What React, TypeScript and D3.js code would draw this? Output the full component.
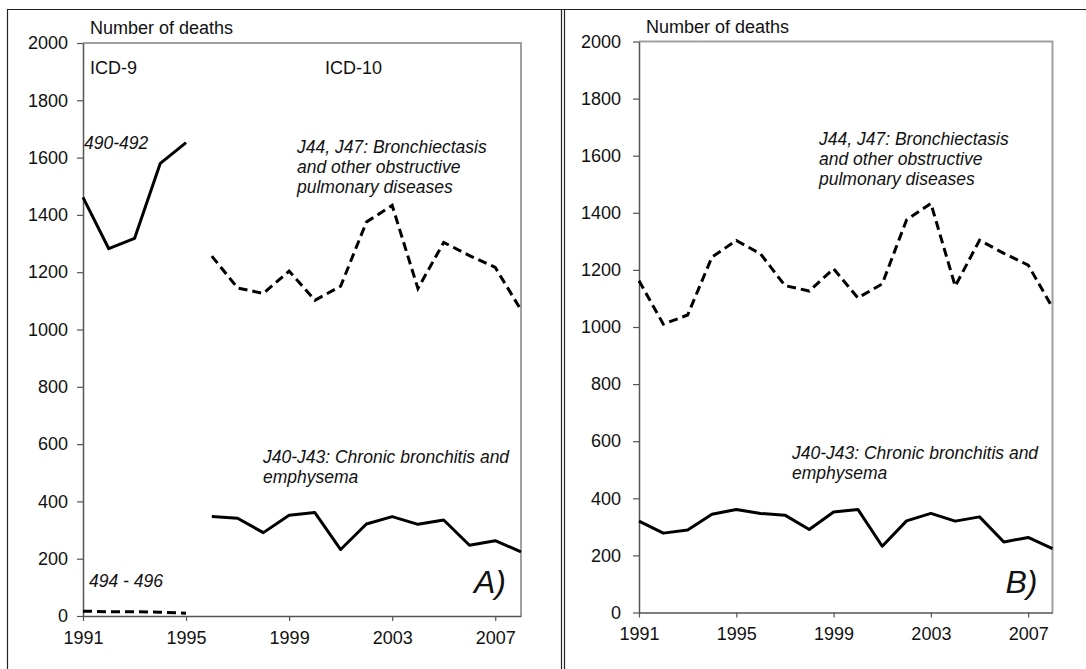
import React, { useEffect, useRef } from 'react';
import * as d3 from 'd3';

const width = 1086;
const height = 669;

// years 1991 - 2008
const years = [1991, 1992, 1993, 1994, 1995, 1996, 1997, 1998, 1999, 2000, 2001, 2002, 2003, 2004, 2005, 2006, 2007, 2008];
const icd9Years = [1991, 1992, 1993, 1994, 1995];
const xTicks = [1991, 1995, 1999, 2003, 2007];
const yTicks = [0, 200, 400, 600, 800, 1000, 1200, 1400, 1600, 1800, 2000];

// ICD-9 series (panel A only)
const obstructive490 = [1461, 1282, 1318, 1580, 1652];
const other494 = [17, 15, 15, 13, 10];

// ICD-10 series
const bronchiectasis = [1162, 1010, 1042, 1245, 1303, 1256, 1145, 1126, 1204, 1102, 1151, 1375, 1433, 1143, 1304, 1258, 1217, 1068];
const chronicBronchitis = [320, 278, 289, 344, 361, 347, 341, 291, 352, 361, 232, 321, 347, 320, 335, 247, 263, 224];

const font = '"Liberation Sans", Arial, sans-serif';

type Pt = { year: number; value: number };
const zip = (xs: number[], vs: number[]): Pt[] => xs.map((year, i) => ({ year, value: vs[i] }));

function Panel({ left, right, top, bottom, icd10From, label, showIcd9 }:
  { left: number; right: number; top: number; bottom: number; icd10From: number; label: string; showIcd9: boolean }) {
  const xAxisRef = useRef<SVGGElement>(null);
  const yAxisRef = useRef<SVGGElement>(null);

  const x = d3.scaleLinear().domain([1991, 2008]).range([left, right]);
  const y = d3.scaleLinear().domain([0, 2000]).range([bottom, top]);

  useEffect(() => {
    const xa = d3.axisBottom(x).tickValues(xTicks).tickFormat(d3.format('d')).tickSize(5).tickSizeOuter(0).tickPadding(10);
    const ya = d3.axisLeft(y).tickValues(yTicks).tickFormat(d3.format('d')).tickSize(6).tickSizeOuter(0).tickPadding(left > 600 ? 12 : 9);
    const gx = d3.select(xAxisRef.current!).call(xa);
    const gy = d3.select(yAxisRef.current!).call(ya);
    [gx, gy].forEach((g) => {
      g.select('.domain').attr('stroke', '#555').attr('stroke-width', 1.5);
      g.selectAll('.tick line').attr('stroke', '#555').attr('stroke-width', 1.2);
      g.selectAll('.tick text').attr('fill', '#111').style('font-size', '18px').style('font-family', font);
    });
  }, [left, right, top, bottom]);

  const line = d3.line<Pt>().x((d) => x(d.year)).y((d) => y(d.value));
  const bron = zip(years, bronchiectasis).filter((d) => d.year >= icd10From);
  const chron = zip(years, chronicBronchitis).filter((d) => d.year >= icd10From);

  const ital = { fontFamily: font, fontStyle: 'italic', fontSize: 17.5, fill: '#111' } as const;
  const lab = left > 600;
  const bx = lab ? 819 : 297;
  const by = lab ? 145 : 153;
  const cx = lab ? 792 : 263;
  const cy = lab ? 459 : 463;

  return (
    <g>
      {/* plot frame top/right */}
      <path d={`M${left},${top}H${right}V${bottom}`} fill="none" stroke="#a0a0a0" strokeWidth={2} />
      <g ref={xAxisRef} transform={`translate(0,${bottom})`} />
      <g ref={yAxisRef} transform={`translate(${left},0)`} />

      {showIcd9 && (
        <>
          <path d={line(zip(icd9Years, obstructive490)) || ''} fill="none" stroke="#000" strokeWidth={3} strokeLinejoin="round" />
          <path d={line(zip(icd9Years, other494)) || ''} fill="none" stroke="#000" strokeWidth={3} strokeDasharray="9,5" />
        </>
      )}
      <path d={line(bron) || ''} fill="none" stroke="#000" strokeWidth={3} strokeDasharray="9,5" />
      <path d={line(chron) || ''} fill="none" stroke="#000" strokeWidth={3} strokeLinejoin="round" />

      <text x={left + 7} y={top - 9} style={{ fontFamily: font, fontSize: 18, fill: '#111' }}>Number of deaths</text>

      {showIcd9 && (
        <>
          <text x={90} y={74} style={{ fontFamily: font, fontSize: 18, fill: '#111' }}>ICD-9</text>
          <text x={325} y={74} style={{ fontFamily: font, fontSize: 18, fill: '#111' }}>ICD-10</text>
          <text x={84} y={149} style={ital}>490-492</text>
          <text x={89} y={587} style={ital}>494 - 496</text>
        </>
      )}

      <text x={bx} y={by} style={ital}>
        <tspan x={bx}>J44, J47: Bronchiectasis</tspan>
        <tspan x={bx} dy={20}>and other obstructive</tspan>
        <tspan x={bx} dy={20}>pulmonary diseases</tspan>
      </text>
      <text x={cx} y={cy} style={ital}>
        <tspan x={cx}>J40-J43: Chronic bronchitis and</tspan>
        <tspan x={cx} dy={20}>emphysema</tspan>
      </text>

      <text x={right - 15} y={593} textAnchor="end" style={{ fontFamily: font, fontStyle: 'italic', fontSize: 32, fill: '#111' }}>{label}</text>
    </g>
  );
}

export default function App() {
  return (
    <svg width={width} height={height} style={{ position: 'absolute', left: 0, top: 0, background: '#fff' }}>
      <rect x={0} y={0} width={width} height={height} fill="#fff" />
      {/* panel borders */}
      <path d={`M7.5,${height}V9.5H${width}`} fill="none" stroke="#222" strokeWidth={1.2} />
      <path d={`M561.5,9.5V${height}M564.5,9.5V${height}`} fill="none" stroke="#222" strokeWidth={1.2} />

      <Panel left={83} right={521} top={43} bottom={616} icd10From={1996} label="A)" showIcd9={true} />
      <Panel left={639} right={1052.5} top={41.5} bottom={612.5} icd10From={1991} label="B)" showIcd9={false} />
    </svg>
  );
}
